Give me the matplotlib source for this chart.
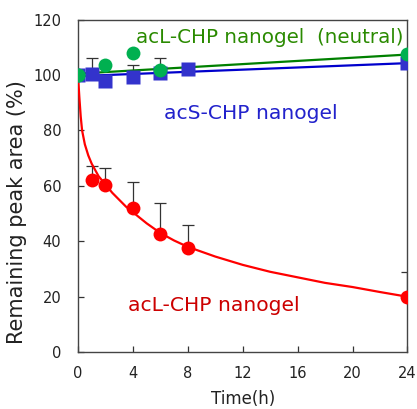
import matplotlib
matplotlib.use("Agg")
import matplotlib.pyplot as plt

# measured data
t_red = [1, 2, 4, 6, 8, 24]
y_red = [62.3, 60.5, 52, 42.5, 37.5, 20]
err_red = [4.7, 5.8, 9.3, 11.5, 8.3, 8.8]

# fitted curve
t_fit = [0, 0.05, 0.1, 0.2, 0.3, 0.5, 0.75, 1, 1.5, 2, 2.5, 3, 3.5, 4, 5, 6, 7, 8,
         10, 12, 14, 16, 18, 20, 22, 24]
y_fit = [100, 96, 92, 85, 80, 75, 71, 68, 63.5, 60.5, 57.5, 55, 52.5, 50.5, 46.5, 43,
         40.3, 38, 34.5, 31.5, 29, 27, 25, 23.5, 21.7, 20]

t_blue = [0, 1, 2, 4, 6, 8, 24]
y_blue = [100, 100.2, 98, 99.4, 100.6, 102.2, 104.4]
err_blue = [0, 5.8, 0, 4.1, 5.6, 0, 0]
t_blue_line = [0, 24]
y_blue_line = [99.6, 104.3]

t_green = [0, 2, 4, 6, 24]
y_green = [100, 103.5, 108, 102, 107.7]
t_green_line = [0, 24]
y_green_line = [100.5, 107.4]

x_ticks = [0, 4, 8, 12, 16, 20, 24]
y_ticks = [0, 20, 40, 60, 80, 100, 120]

fig = plt.figure(figsize=(4.17, 4.09), dpi=100)
ax = fig.add_axes([0.187, 0.139, 0.790, 0.813])

ax.errorbar(t_red, y_red, yerr=[[0]*len(err_red), err_red], fmt='none',
            ecolor='#333333', elinewidth=0.9, capsize=4, capthick=0.9, zorder=2)
ax.errorbar(t_blue, y_blue, yerr=[[0]*len(err_blue), err_blue], fmt='none',
            ecolor='#333333', elinewidth=0.9, capsize=4, capthick=0.9, zorder=2)

ax.plot(t_fit, y_fit, color='#ff0000', lw=1.6, zorder=3)
ax.plot(t_blue_line, y_blue_line, color='#0000cc', lw=1.6, zorder=3)
ax.plot(t_green_line, y_green_line, color='#008000', lw=1.6, zorder=3)

ax.plot(t_red, y_red, 'o', color='#ff0000', ms=10, mec='none', zorder=4)
ax.plot(t_blue, y_blue, 's', color='#3333cc', ms=9.5, mec='none', zorder=4)
ax.plot(t_green, y_green, 'o', color='#00b050', ms=10, mec='none', zorder=5)
ax.plot([0], [100], 'o', color='#00b050', ms=10, mec='none', zorder=6)

ax.text(4.2, 113.5, 'acL-CHP nanogel  (neutral)', color='#2a8a00', fontsize=14.3,
        va='center', ha='left')
ax.text(6.3, 86, 'acS-CHP nanogel', color='#2222cc', fontsize=14.6,
        va='center', ha='left')
ax.text(3.65, 17, 'acL-CHP nanogel', color='#cc0000', fontsize=14.6,
        va='center', ha='left')

ax.set_xlim(0, 24)
ax.set_ylim(0, 120)
ax.set_xticks(x_ticks)
ax.set_yticks(y_ticks)
ax.tick_params(direction='in', length=4, width=0.9, labelsize=10.5,
               colors='#333333', labelcolor='#222222')
ax.tick_params(axis='x', pad=10)
ax.tick_params(axis='y', pad=12)
for s in ax.spines.values():
    s.set_color('#444444')
    s.set_linewidth(1.0)
ax.set_xlabel('Time(h)', fontsize=12, color='#222222')
ax.set_ylabel('Remaining peak area (%)', fontsize=15, color='#222222')
ax.xaxis.set_label_coords(0.5, -0.115)
ax.yaxis.set_label_coords(-0.155, 0.42)

fig.savefig('out.png', dpi=100)
